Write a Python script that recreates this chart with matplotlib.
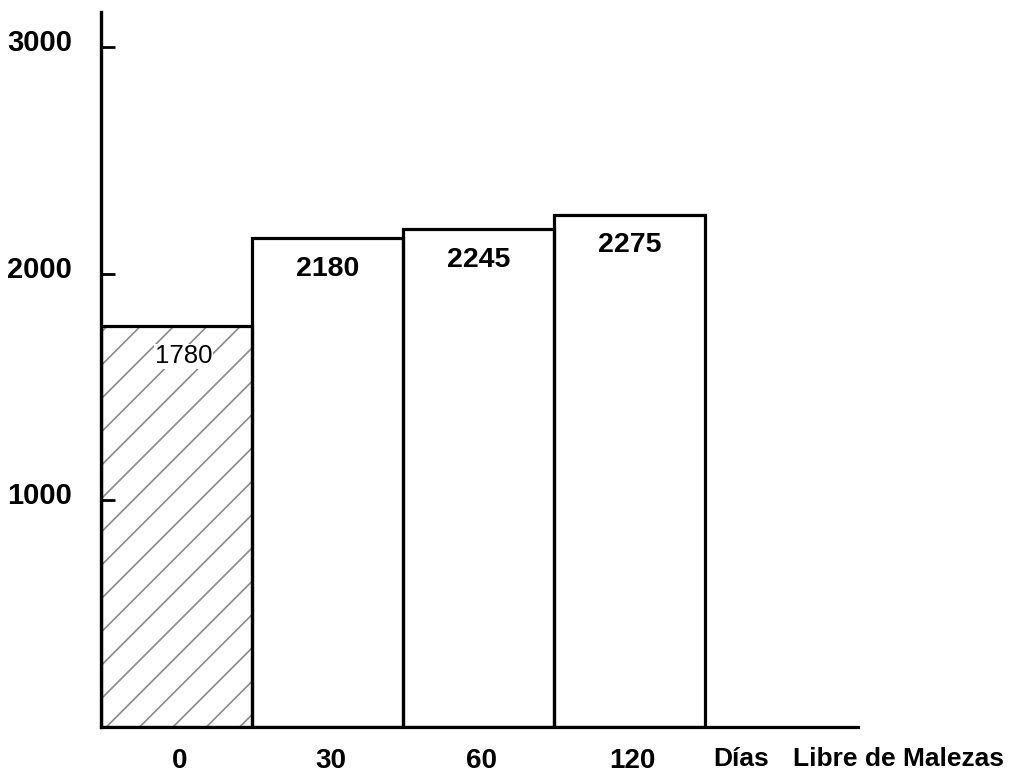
import matplotlib.pyplot as plt
from matplotlib.transforms import ScaledTranslation

plt.rcParams["font.family"] = ["Liberation Sans", "DejaVu Sans"]
plt.rcParams["hatch.linewidth"] = 1.2

# Data
days = ["0", "30", "60", "120"]
bar_heights = [1770, 2155, 2195, 2260]
bar_labels = ["1780", "2180", "2245", "2275"]
y_ticks = [1000, 2000, 3000]

fig = plt.figure(figsize=(10.09, 7.73), dpi=100)
ax = fig.add_axes([0.1001, 0.0595, 0.7502, 0.925])

x = list(range(len(days)))

# first bar hatched (no weed control), the rest plain
ax.bar(x[0], bar_heights[0], width=1.0, color="white", edgecolor="#8a8a8a",
       hatch="/", linewidth=0)
ax.bar(x, bar_heights, width=1.0, color="none", edgecolor="black", linewidth=2.3)

for i, (h, lab) in enumerate(zip(bar_heights, bar_labels)):
    if i == 0:
        ax.annotate(lab, (i, h), xytext=(5, -22), textcoords="offset points",
                    ha="center", va="center", fontsize=18.5,
                    bbox=dict(facecolor="white", edgecolor="none", pad=0.5))
    else:
        ax.annotate(lab, (i, h), xytext=(0, -22), textcoords="offset points",
                    ha="center", va="center", fontsize=20.5, fontweight="bold")

ax.set_xlim(-0.5, 4.513)
ax.set_ylim(0, 3154)

ax.spines["top"].set_visible(False)
ax.spines["right"].set_visible(False)
ax.spines["left"].set_linewidth(2.4)
ax.spines["bottom"].set_linewidth(2.3)

ax.set_yticks(y_ticks)
ax.set_yticklabels([str(v) for v in y_ticks], fontsize=21, fontweight="bold")
ax.tick_params(axis="y", direction="in", length=10, width=2, pad=21)
for lbl in ax.get_yticklabels():
    lbl.set_transform(lbl.get_transform() + ScaledTranslation(0, 7 / 100, fig.dpi_scale_trans))

ax.set_xticks(x)
ax.set_xticklabels(days, fontsize=20, fontweight="bold")
ax.tick_params(axis="x", length=0, pad=15)
for lbl in ax.get_xticklabels():
    lbl.set_transform(lbl.get_transform() + ScaledTranslation(3 / 100, 0, fig.dpi_scale_trans))

ax.annotate("Días", (3.74, 0), xycoords=("data", "axes fraction"),
            xytext=(0, -32), textcoords="offset pixels", ha="center", va="center",
            fontsize=19, fontweight="bold", annotation_clip=False)
ax.annotate("Libre de Malezas", (4.78, 0), xycoords=("data", "axes fraction"),
            xytext=(0, -32), textcoords="offset pixels", ha="center", va="center",
            fontsize=19, fontweight="bold", annotation_clip=False)

fig.savefig("out.png", dpi=100)
